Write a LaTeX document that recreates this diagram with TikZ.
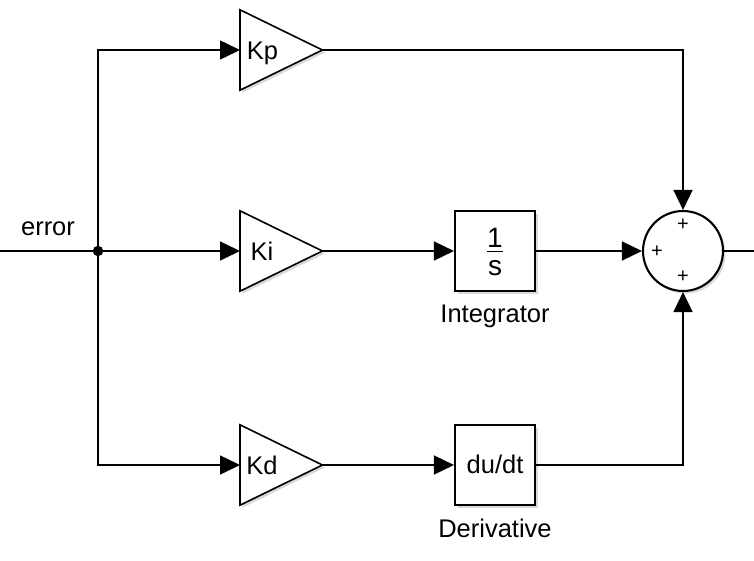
\documentclass[tikz,border=0pt]{standalone}
\usepackage{fontspec}
\setmainfont{Liberation Sans}
\usetikzlibrary{arrows.meta,shadows}
\begin{document}
\begin{tikzpicture}[x=1pt,y=-1pt,
  wire/.style={line width=1.5pt},
  arr/.style={wire,-{Triangle[length=20pt,width=19pt]}},
  blk/.style={draw,line width=2.1pt,fill=white,minimum width=80pt,minimum height=80pt,inner sep=0pt,
     drop shadow={shadow xshift=2.5pt,shadow yshift=-2.5pt,opacity=0.3}},
  gainbox/.style={minimum width=82pt,minimum height=80pt,inner sep=0pt,anchor=west},
  tri/.style={draw,line width=1.6pt,fill=white,line join=miter,
     drop shadow={shadow xshift=2.5pt,shadow yshift=-2.5pt,opacity=0.3}},
  txt/.style={font=\fontsize{25.5}{30}\selectfont,inner sep=0pt,anchor=base},
  plus/.style={font=\fontsize{20}{24}\selectfont,inner sep=0pt}
]
\useasboundingbox (0,0) rectangle (754,560);

% gains (invisible frames)
\node[gainbox] (kp) at (240,50) {};
\node[gainbox] (ki) at (240,251) {};
\node[gainbox] (kd) at (240,465) {};
\foreach \g in {kp,ki,kd}{
  \draw[tri] (\g.north west) -- (\g.east) -- (\g.south west) -- cycle;
}
\node[txt] (kpt) at (262.5,59) {Kp};
\node[txt] (kit) at (262,260) {Ki};
\node[txt] (kdt) at (262,474) {Kd};

% blocks
\node[blk] (int) at (495,251) {};
\node[txt,font=\fontsize{28}{32}\selectfont] (one) at (495,247) {1};
\node[txt,font=\fontsize{28}{32}\selectfont] (ess) at (495,275) {s};
\draw[line width=1.2pt] (487,251.5) -- (503,251.5);
\node[txt] (intl) at (495,322) {Integrator};

\node[blk] (der) at (495,465) {};
\node[txt] (dudt) at (495,473) {du/dt};
\node[txt] (derl) at (495,537) {Derivative};

% sum
\node[draw,circle,line width=2.1pt,fill=white,minimum size=80pt,inner sep=0pt,
  drop shadow={shadow xshift=2.5pt,shadow yshift=-2.5pt,opacity=0.3}] (sum) at (683,251) {};
\node[plus] (p1) at (683,225) {+};
\node[plus] (p2) at (657,252) {+};
\node[plus] (p3) at (683,277) {+};

% input
\coordinate (in) at (0,251);
\coordinate (out) at (754,251);
\node[circle,fill=black,minimum size=10.5pt,inner sep=0pt] (j) at (98,251) {};
\node[txt] (err) at (48,235) {error};

\draw[wire] (in) -- (j);
\draw[arr] (j.center) |- (kp.west);
\draw[arr] (j) -- (ki.west);
\draw[arr] (j.center) |- (kd.west);

\draw[arr] (kp.east) -| (sum.north);
\draw[arr] (ki.east) -- (int.west);
\draw[arr] (int.east) -- (sum.west);
\draw[arr] (kd.east) -- (der.west);
\draw[arr] (der.east) -| (sum.south);
\draw[wire] (sum.east) -- (out);
\end{tikzpicture}
\end{document}
